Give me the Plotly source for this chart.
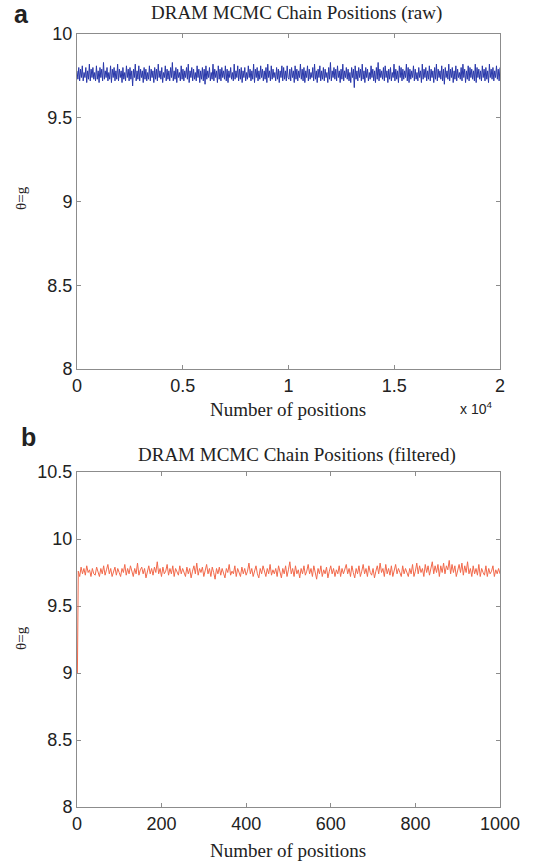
import numpy as np
import plotly.graph_objects as go

# ---------------- data ----------------
raw_g = [
9.78,9.73,9.80,9.72,9.79,9.74,9.81,9.72,9.77,9.74,
9.80,9.71,9.78,9.73,9.82,9.72,9.79,9.74,9.80,9.73,
9.77,9.72,9.81,9.73,9.78,9.71,9.80,9.74,9.79,9.72,
9.83,9.73,9.78,9.74,9.80,9.72,9.77,9.73,9.81,9.71,
9.79,9.74,9.80,9.72,9.78,9.73,9.82,9.72,9.79,9.74,
9.78,9.71,9.80,9.73,9.77,9.72,9.81,9.74,9.79,9.72,
9.80,9.73,9.78,9.69,9.79,9.74,9.82,9.72,9.78,9.73,
9.81,9.72,9.79,9.74,9.78,9.71,9.80,9.73,9.79,9.72,
9.77,9.73,9.81,9.72,9.79,9.74,9.78,9.71,9.80,9.73,
9.79,9.72,9.82,9.74,9.78,9.73,9.80,9.71,9.77,9.74,
9.81,9.72,9.79,9.73,9.78,9.72,9.80,9.74,9.83,9.72,
9.78,9.73,9.80,9.71,9.79,9.74,9.77,9.72,9.81,9.73,
9.79,9.72,9.78,9.74,9.80,9.73,9.82,9.71,9.78,9.74,
9.80,9.72,9.79,9.73,9.77,9.72,9.81,9.74,9.79,9.71,
9.78,9.73,9.80,9.72,9.79,9.70,9.81,9.73,9.78,9.74,
9.80,9.72,9.77,9.73,9.82,9.72,9.79,9.74,9.78,9.71,
9.81,9.73,9.79,9.72,9.80,9.74,9.78,9.73,9.81,9.72,
9.79,9.71,9.78,9.74,9.80,9.73,9.77,9.72,9.82,9.73,
9.78,9.74,9.81,9.72,9.79,9.73,9.80,9.71,9.78,9.74,
9.80,9.72,9.77,9.73,9.81,9.74,9.79,9.72,9.78,9.73,
9.82,9.71,9.79,9.74,9.80,9.72,9.78,9.73,9.81,9.74,
9.79,9.72,9.78,9.73,9.80,9.71,9.82,9.74,9.78,9.72,
9.81,9.73,9.79,9.74,9.77,9.72,9.80,9.73,9.79,9.71,
9.78,9.74,9.81,9.72,9.80,9.73,9.78,9.72,9.81,9.74,
9.73,9.79,9.72,9.80,9.74,9.78,9.71,9.81,9.73,9.79,
9.72,9.78,9.74,9.82,9.73,9.79,9.72,9.80,9.71,9.78,
9.74,9.81,9.72,9.79,9.73,9.77,9.74,9.80,9.72,9.82,
9.73,9.78,9.71,9.79,9.74,9.81,9.72,9.78,9.73,9.80,
9.72,9.79,9.74,9.77,9.71,9.80,9.73,9.83,9.72,9.78,
9.74,9.80,9.73,9.79,9.72,9.81,9.74,9.78,9.71,9.79,
9.73,9.82,9.72,9.78,9.74,9.80,9.73,9.79,9.72,9.77,
9.71,9.80,9.74,9.79,9.68,9.81,9.73,9.78,9.72,9.80,
9.74,9.79,9.72,9.82,9.73,9.78,9.71,9.80,9.74,9.79,
9.72,9.77,9.73,9.81,9.74,9.79,9.72,9.78,9.71,9.80,
9.73,9.83,9.72,9.79,9.74,9.78,9.73,9.80,9.72,9.81,
9.74,9.78,9.71,9.79,9.73,9.80,9.72,9.77,9.74,9.82,
9.72,9.79,9.73,9.78,9.71,9.81,9.74,9.80,9.72,9.79,
9.73,9.78,9.74,9.82,9.72,9.80,9.71,9.79,9.73,9.78,
9.74,9.81,9.72,9.79,9.73,9.77,9.72,9.80,9.74,9.78,
9.71,9.82,9.73,9.79,9.74,9.80,9.72,9.78,9.73,9.81,
9.72,9.79,9.74,9.78,9.71,9.80,9.73,9.82,9.72,9.79,
9.74,9.78,9.73,9.81,9.72,9.79,9.70,9.80,9.74,9.78,
9.73,9.82,9.72,9.79,9.74,9.80,9.71,9.78,9.73,9.81,
9.72,9.79,9.74,9.77,9.73,9.80,9.72,9.82,9.74,9.79,
9.71,9.78,9.73,9.81,9.72,9.80,9.74,9.79,9.73,9.78,
9.72,9.82,9.71,9.80,9.74,9.79,9.73,9.78,9.72,9.81,
9.74,9.79,9.72,9.80,9.73,9.78,9.71,9.82,9.74,9.79,
9.73,9.80,9.72,9.78,9.74,9.81,9.73,9.79,9.72,9.80,
]
raw_x = np.linspace(0, 20000, len(raw_g))

filt_g = [9.0,
9.76,9.72,9.79,9.74,9.78,9.73,9.80,9.75,9.77,9.72,
9.78,9.74,9.73,9.79,9.76,9.72,9.78,9.74,9.80,9.73,
9.77,9.81,9.74,9.78,9.72,9.76,9.79,9.73,9.78,9.75,
9.72,9.78,9.75,9.81,9.73,9.78,9.74,9.80,9.76,9.72,
9.78,9.74,9.82,9.73,9.77,9.79,9.74,9.78,9.71,9.76,
9.80,9.74,9.78,9.73,9.79,9.75,9.83,9.74,9.78,9.72,
9.79,9.74,9.76,9.81,9.73,9.78,9.74,9.80,9.72,9.78,
9.76,9.73,9.80,9.74,9.78,9.75,9.72,9.79,9.74,9.78,
9.71,9.76,9.80,9.74,9.82,9.73,9.78,9.75,9.79,9.72,
9.76,9.81,9.74,9.78,9.72,9.79,9.75,9.70,9.78,9.74,
9.79,9.73,9.78,9.74,9.71,9.78,9.75,9.81,9.73,9.76,
9.74,9.80,9.72,9.78,9.75,9.72,9.79,9.74,9.78,9.73,
9.76,9.82,9.74,9.78,9.72,9.76,9.80,9.74,9.71,9.78,
9.74,9.80,9.76,9.72,9.78,9.74,9.81,9.73,9.77,9.74,
9.78,9.72,9.80,9.75,9.71,9.78,9.74,9.80,9.72,9.77,
9.83,9.74,9.78,9.72,9.80,9.74,9.77,9.71,9.78,9.74,
9.80,9.73,9.76,9.81,9.74,9.78,9.72,9.80,9.75,9.70,
9.78,9.74,9.80,9.72,9.77,9.74,9.79,9.71,9.76,9.80,
9.74,9.78,9.72,9.77,9.74,9.80,9.72,9.78,9.74,9.77,
9.81,9.74,9.78,9.72,9.80,9.75,9.71,9.78,9.74,9.80,
9.72,9.76,9.81,9.74,9.78,9.72,9.80,9.75,9.73,9.78,
9.71,9.76,9.80,9.74,9.82,9.75,9.78,9.72,9.81,9.74,
9.78,9.73,9.80,9.72,9.76,9.81,9.74,9.78,9.75,9.72,
9.80,9.74,9.78,9.75,9.72,9.78,9.74,9.81,9.72,9.76,
9.82,9.74,9.80,9.75,9.78,9.72,9.81,9.75,9.80,9.73,
9.78,9.83,9.74,9.80,9.75,9.81,9.72,9.80,9.75,9.82,
9.74,9.80,9.77,9.84,9.74,9.81,9.75,9.80,9.72,9.78,
9.81,9.75,9.82,9.73,9.80,9.75,9.83,9.74,9.78,9.72,
9.80,9.74,9.78,9.73,9.81,9.72,9.78,9.75,9.73,9.80,
9.72,9.78,9.74,9.76,9.80,9.72,9.77,9.74,9.78,9.74,
]
# chain positions are 1-based (MATLAB indexing)
filt_x = [1] + list(np.linspace(3, 1000, len(filt_g) - 1))

a_xticks = [0, 5000, 10000, 15000, 20000]
a_xtick_text = ["0", "0.5", "1", "1.5", "2"]
a_yticks = [8, 8.5, 9, 9.5, 10]
a_ytick_text = ["8", "8.5", "9", "9.5", "10"]
b_xticks = [0, 200, 400, 600, 800, 1000]
b_yticks = [8, 8.5, 9, 9.5, 10, 10.5]
b_ytick_text = ["8", "8.5", "9", "9.5", "10", "10.5"]

# ---------------- figure ----------------
W, H = 539, 861
def px_x(p): return p / W
def px_y(p): return 1 - p / H

fig = go.Figure()
fig.add_trace(go.Scatter(x=raw_x, y=raw_g, mode="lines",
                         line=dict(color="rgb(40,55,170)", width=1),
                         xaxis="x", yaxis="y", showlegend=False))
fig.add_trace(go.Scatter(x=filt_x, y=filt_g, mode="lines",
                         line=dict(color="rgb(242,105,75)", width=1),
                         xaxis="x2", yaxis="y2", showlegend=False))

tickfont = dict(family="Liberation Sans, Arial, sans-serif", size=18, color="#222")
axcommon = dict(showline=True, linecolor="#8c8c8c", linewidth=1, mirror="ticks",
                ticks="inside", ticklen=4, tickcolor="#8c8c8c", showgrid=False,
                zeroline=False, tickfont=tickfont, automargin=False, layer="below traces")

xd = [px_x(77), px_x(500)]
fig.update_layout(
    width=W, height=H, margin=dict(l=0, r=0, t=0, b=0, pad=0), autosize=False,
    paper_bgcolor="white", plot_bgcolor="white",
    xaxis=dict(domain=xd, range=[0, 20000], tickvals=a_xticks, ticktext=a_xtick_text,
               anchor="y", **axcommon),
    yaxis=dict(domain=[px_y(369), px_y(34)], range=[8, 10], tickvals=a_yticks,
               ticktext=a_ytick_text, anchor="x", **axcommon),
    xaxis2=dict(domain=xd, range=[0, 1000], tickvals=b_xticks, anchor="y2", **axcommon),
    yaxis2=dict(domain=[px_y(807), px_y(472)], range=[8, 10.5], tickvals=b_yticks,
                ticktext=b_ytick_text, anchor="x2", **axcommon),
)

serif = "Liberation Serif, Times New Roman, serif"
sans = "Liberation Sans, Arial, sans-serif"
def ann(text, x, y, size, family=serif, angle=0, xanchor="center"):
    fig.add_annotation(text=text, x=px_x(x), y=px_y(y), xref="paper", yref="paper",
                       showarrow=False, textangle=angle, xanchor=xanchor, yanchor="middle",
                       font=dict(family=family, size=size, color="#222"))

ann("<b>a</b>", 21, 14, 25, family=sans)
ann("<b>b</b>", 28, 437, 25, family=sans)
ann("DRAM MCMC Chain Positions (raw)", 296, 13, 19)
ann("DRAM MCMC Chain Positions (filtered)", 297, 455, 19)
ann("Number of positions", 288, 409, 19)
ann("Number of positions", 288, 850, 19)
ann("x 10<sup>4</sup>", 476, 408, 14, family=sans)
ann("θ=g", 21, 198, 15, angle=-90)
ann("θ=g", 21, 638, 15, angle=-90)

fig.write_html("out.html", config={"displayModeBar": False},
               post_script="document.body.style.margin='0';document.body.style.overflow='hidden';")
